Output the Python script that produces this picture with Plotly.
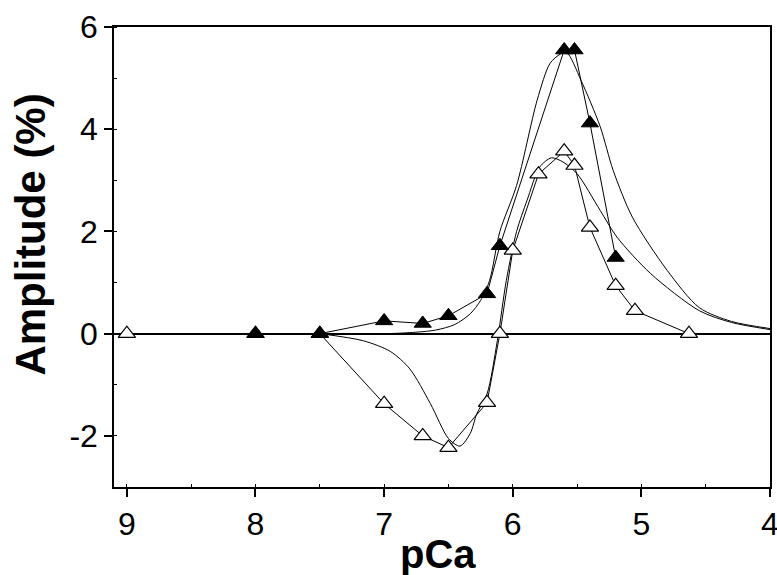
import plotly.graph_objects as go

filled_x = [8.0, 7.5, 7.0, 6.7, 6.5, 6.2, 6.1, 5.6, 5.52, 5.4, 5.2]
filled_y = [0.0, 0.0, 0.25, 0.2, 0.35, 0.78, 1.72, 5.55, 5.55, 4.12, 1.49]

open_x = [9.0, 8.0, 7.5, 7.0, 6.7, 6.5, 6.2, 6.1, 6.0, 5.8, 5.6, 5.52, 5.4, 5.2, 5.05, 4.63]
open_y = [0.0, 0.0, 0.0, -1.37, -2.0, -2.23, -1.35, 0.0, 1.63, 3.12, 3.57, 3.29, 2.08, 0.94, 0.45, 0.0]

# Fit curves
fit1_x = [7.5, 7.0, 6.8, 6.6, 6.45, 6.33, 6.25, 6.18, 6.1, 5.97, 5.81, 5.71, 5.63, 5.58,
          5.47, 5.32, 5.22, 5.07, 4.8, 4.55, 4.3, 4.0]
fit1_y = [0.0, 0.0, 0.02, 0.07, 0.18, 0.39, 0.65, 1.04, 2.0, 2.9, 4.57, 5.29, 5.47, 5.5,
          4.96, 4.05, 3.2, 2.28, 1.24, 0.51, 0.24, 0.1]

fit2_x = [7.5, 7.16, 6.95, 6.8, 6.64, 6.5, 6.41, 6.33, 6.28, 6.2, 6.12, 6.05, 5.97, 5.89,
          5.79, 5.7, 5.61, 5.5, 5.32, 5.19, 4.93, 4.55, 4.3, 4.0]
fit2_y = [0.0, -0.14, -0.35, -0.69, -1.37, -2.05, -2.2, -1.95, -1.57, -1.18, -0.14, 1.04,
          2.0, 2.6, 3.26, 3.44, 3.36, 3.13, 2.41, 1.89, 1.18, 0.45, 0.22, 0.08]

x_ticks = [9, 8, 7, 6, 5, 4]
y_ticks = [-2, 0, 2, 4, 6]

FONT = "Liberation Sans, Arial, sans-serif"

fig = go.Figure()
fig.add_trace(go.Scatter(x=fit1_x, y=fit1_y, mode="lines",
                         line=dict(color="black", width=1, shape="spline", smoothing=0.8),
                         showlegend=False, hoverinfo="skip"))
fig.add_trace(go.Scatter(x=fit2_x, y=fit2_y, mode="lines",
                         line=dict(color="black", width=1, shape="spline", smoothing=0.8),
                         showlegend=False, hoverinfo="skip"))
fig.add_trace(go.Scatter(x=open_x, y=open_y, mode="lines+markers",
                         line=dict(color="black", width=1),
                         marker=dict(symbol="triangle-up", size=15, color="white",
                                     line=dict(color="black", width=1.2)),
                         showlegend=False))
fig.add_trace(go.Scatter(x=filled_x, y=filled_y, mode="lines+markers",
                         line=dict(color="black", width=1),
                         marker=dict(symbol="triangle-up", size=15, color="black",
                                     line=dict(color="black", width=1)),
                         showlegend=False))

fig.update_layout(
    width=777, height=575,
    margin=dict(l=114, r=7, t=27, b=88),
    paper_bgcolor="white", plot_bgcolor="white",
    font=dict(family=FONT, color="black"),
    xaxis=dict(
        range=[9.1, 4], tickvals=x_ticks, ticktext=[str(v) for v in x_ticks],
        showgrid=False, zeroline=False, automargin=False, ticklabeloverflow="allow",
        showline=True, linecolor="black", linewidth=1.5, mirror=True,
        ticks="outside", ticklen=8, tickwidth=1.5, tickcolor="black",
        tickfont=dict(size=32, family=FONT),
        minor=dict(dtick=0.5, tick0=4, ticks="inside", ticklen=3, tickwidth=1, tickcolor="black"),
    ),
    yaxis=dict(
        range=[-3, 6], tickvals=y_ticks, ticktext=[str(v) for v in y_ticks],
        showgrid=False, zeroline=True, zerolinecolor="black", zerolinewidth=1.5,
        automargin=False, ticklabeloverflow="allow",
        showline=True, linecolor="black", linewidth=1.5, mirror=True,
        ticks="outside", ticklen=8, tickwidth=1.5, tickcolor="black",
        tickfont=dict(size=32, family=FONT),
        minor=dict(dtick=1, tick0=1, ticks="inside", ticklen=3, tickwidth=1, tickcolor="black"),
    ),
    annotations=[
        dict(text="<b>pCa</b>", xref="paper", yref="paper", x=0.494, y=-0.145,
             xanchor="center", yanchor="middle", showarrow=False,
             font=dict(size=40, family=FONT, color="black")),
        dict(text="<b>Amplitude (%)</b>", xref="paper", yref="paper", x=-0.127, y=0.548,
             xanchor="center", yanchor="middle", showarrow=False, textangle=-90,
             font=dict(size=42, family=FONT, color="black")),
    ],
)

fig.write_html("out.html", config={"displayModeBar": False},
               post_script="document.body.style.margin='0';document.body.style.overflow='hidden';")
